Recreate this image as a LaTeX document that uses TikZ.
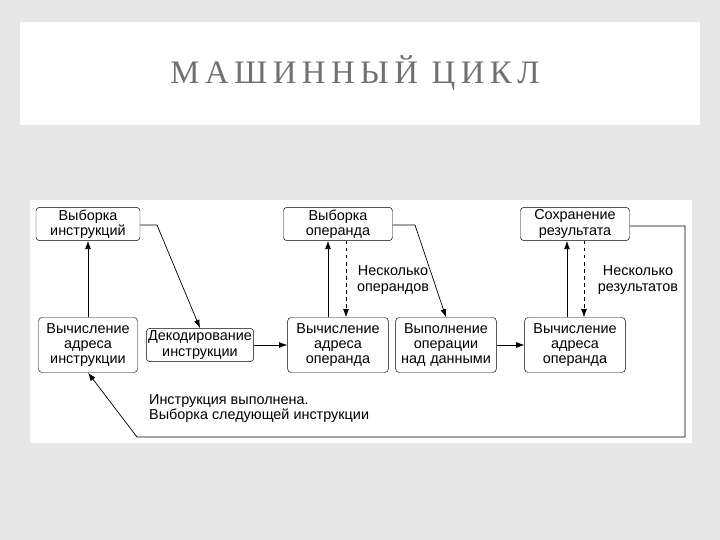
\documentclass[tikz,border=0pt]{standalone}
\usepackage{fontspec}
\setmainfont{Liberation Sans}
\newfontfamily\titlefont{Liberation Serif}
\usetikzlibrary{positioning}
\usetikzlibrary{arrows.meta}

\definecolor{slidegray}{HTML}{E6E6E6}
\definecolor{titlegray}{HTML}{707070}

\tikzset{
  stage/.style={draw, rounded corners=3pt, align=center, inner sep=1pt,
    font=\fontsize{12.3}{13}\selectfont},
  flow/.style={-{Latex[length=7pt,width=5pt]}, line width=0.6pt},
  many/.style={flow, dashed},
  note/.style={align=center, font=\fontsize{12.3}{13}\selectfont}
}

\begin{document}
\begin{tikzpicture}[x=0.03cm, y=-0.03cm]
      % Slide background and frames.
      \useasboundingbox (0,0) rectangle (720,540);
      \fill[slidegray] (0,0) rectangle (720,540);
      \fill[white] (20,22) rectangle (700,125);
      \fill[white] (30,200) rectangle (692,443);
      \node[text=titlegray, font=\titlefont\fontsize{28}{30}\selectfont] (title) at (355,73) {М\,А\,Ш\,И\,Н\,Н\,Ы\,Й \,Ц\,И\,К\,Л};

      % Stage boxes.
      \node[stage, text width=3.05cm, minimum height=1cm] (fetchI) at (88,224) {Выборка\\инструкций};
      \node[stage, text width=2.9cm, minimum height=1.65cm] (calcI) at (88,345) {Вычисление\\адреса\\инструкции};
      \node[stage, text width=3.15cm, minimum height=1cm] (decode) at (200,345) {Декодирование\\инструкции};
      \node[stage, text width=3.2cm, minimum height=1cm] (fetchO) at (338,224) {Выборка\\операнда};
      \node[stage, text width=2.95cm, minimum height=1.65cm] (calcO) at (338,345) {Вычисление\\адреса\\операнда};
      \node[stage, text width=2.95cm, minimum height=1.65cm] (exec) at (446,345) {Выполнение\\операции\\над данными};
      \node[stage, text width=3.2cm, minimum height=1cm] (store) at (575,224) {Сохранение\\результата};
      \node[stage, text width=2.95cm, minimum height=1.65cm] (calcR) at (575,345) {Вычисление\\адреса\\операнда};

      % Labels.
      \node[note] (manyO) at (393,280) {Несколько\\операндов};
      \node[note] (manyR) at (638,280) {Несколько\\результатов};
      \node[note, align=left, anchor=north west] (done) at (145,390) {Инструкция выполнена.\\Выборка следующей инструкции};

      % Corner points.
      \coordinate (c1) at (157,225);
      \coordinate (c2) at (415,225);
      \coordinate (c3) at (685,226);
      \coordinate (c4) at (685,437);
      \coordinate (c5) at (137,437);

      % Connectors.
      \draw[flow] (calcI) -- (fetchI);
      \draw[flow] (fetchI.east |- c1) -- (c1) -- (decode.north);
      \draw[flow] (decode) -- (calcO);
      \draw[flow] ([xshift=-0.3cm]calcO.north) -- ([xshift=-0.3cm]fetchO.south);
      \draw[many] ([xshift=0.24cm]fetchO.south) -- ([xshift=0.24cm]calcO.north);
      \draw[flow] (fetchO.east |- c2) -- (c2) -- (exec.north);
      \draw[flow] (exec) -- (calcR);
      \draw[flow] ([xshift=-0.24cm]calcR.north) -- ([xshift=-0.24cm]store.south);
      \draw[many] ([xshift=0.27cm]store.south) -- ([xshift=0.27cm]calcR.north);
      \draw[flow] (store.east |- c3) -- (c3) -- (c4) -- (c5) -- (calcI.south);
\end{tikzpicture}
\end{document}
